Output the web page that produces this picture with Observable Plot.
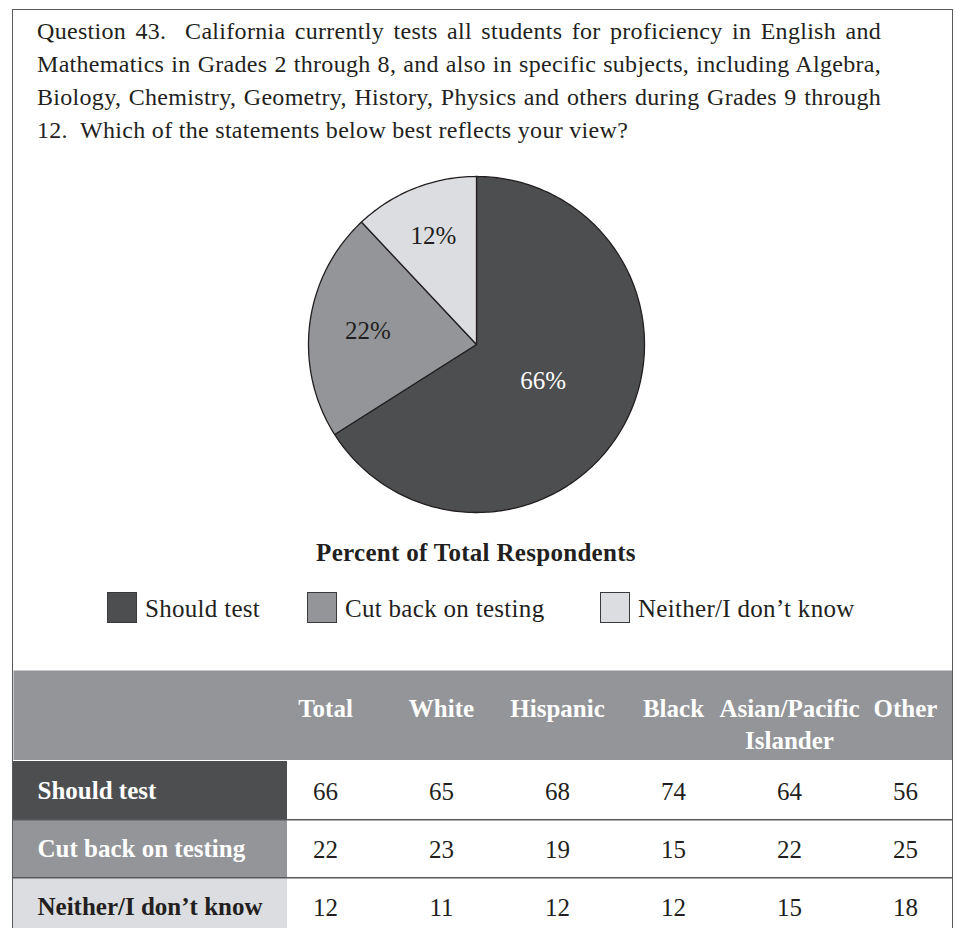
<!DOCTYPE html>
<html>
<head>
<meta charset="utf-8">
<script src="https://cdn.jsdelivr.net/npm/d3@7"></script>
<script src="https://cdn.jsdelivr.net/npm/@observablehq/plot@0.6"></script>
<style>
  html, body { margin: 0; padding: 0; background: #fff; }
  body { width: 956px; height: 928px; overflow: hidden; position: relative;
         font-family: "Liberation Serif", "DejaVu Serif", serif; color: #231f20; }
  .abs { position: absolute; }
  #title { left: 37px; top: 15px; width: 844px; font-size: 24px; line-height: 33px; letter-spacing: 0.3px; }
  #title div { white-space: nowrap; height: 33px; overflow: visible; }
  #title div.j { text-align: justify; text-align-last: justify; white-space: normal; }
  #pieTitle { left: 0; width: 952px; top: 540px; text-align: center; font-size: 25px; line-height: 25px; font-weight: bold; letter-spacing: 0.3px; }
  .sw { width: 30px; height: 31px; border: 1px solid #3a3a3c; box-sizing: border-box; top: 592px; }
  .lg { top: 596px; font-size: 25px; line-height: 25px; letter-spacing: 0.3px; white-space: nowrap; }
  #box { left: 12px; top: 9px; width: 939px; height: 960px; border: 1.5px solid #5a5b5d; pointer-events: none; }
</style>
</head>
<body>
<div id="title" class="abs"></div>
<div id="pie" class="abs" style="left:306px; top:174px;"></div>
<div id="pieTitle" class="abs"></div>
<div id="legend"></div>
<div id="thead" class="abs" style="left:13px; top:670px;"></div>
<div id="tbody" class="abs" style="left:13px; top:760px;"></div>
<div id="box" class="abs"></div>
<script>
// ---------- data ----------
const titleLines = [
  "Question 43.  California currently tests all students for proficiency in English and",
  "Mathematics in Grades 2 through 8, and also in specific subjects, including Algebra,",
  "Biology, Chemistry, Geometry, History, Physics and others during Grades 9 through",
  "12.  Which of the statements below best reflects your view?"
];
const pieTitle = "Percent of Total Respondents";
const responses = ["Should test", "Cut back on testing", "Neither/I don\u2019t know"];
const totalPercent = [66, 22, 12];
const groups = ["Total", "White", "Hispanic", "Black", "Asian/Pacific Islander", "Other"];
const groupLabels = ["Total", "White", "Hispanic", "Black", "Asian/Pacific\nIslander", "Other"];
const shouldTest = [66, 65, 68, 74, 64, 56];
const cutBack = [22, 23, 19, 15, 22, 25];
const neither = [12, 11, 12, 12, 15, 18];

// ---------- styles ----------
const fills = ["#4d4e50", "#939598", "#dcdde0"];
const labelInk = ["#ffffff", "#231f20", "#231f20"];
const rowInk = ["#ffffff", "#ffffff", "#231f20"];
const ink = "#231f20";
const fs = 25;

const titleEl = document.getElementById("title");
titleLines.forEach((l, i) => {
  const d = document.createElement("div");
  if (i < titleLines.length - 1) d.className = "j";
  d.textContent = l.replace(/  /g, "\u00a0 ");
  titleEl.appendChild(d);
});
document.getElementById("pieTitle").textContent = pieTitle;

// ---------- pie ----------
const arcs = d3.pie().sort(null).value(d => d)(totalPercent);
const sliceMarks = arcs.map((a, i) => {
  const pts = [{x: 0, y: 0}];
  const n = Math.max(2, Math.ceil((a.endAngle - a.startAngle) / (Math.PI / 180)));
  for (let k = 0; k <= n; k++) {
    const t = a.startAngle + (a.endAngle - a.startAngle) * k / n;
    pts.push({x: Math.sin(t), y: Math.cos(t)});
  }
  return Plot.line(pts, {x: "x", y: "y", fill: fills[i], stroke: ink, strokeWidth: 1.3,
                         strokeLinejoin: "round", curve: "linear-closed"});
});
const labels = arcs.map((a, i) => {
  const share = totalPercent[i] / 100;
  const r = 0.75 - 0.45 * share;
  const m = (a.startAngle + a.endAngle) / 2;
  return {x: r * Math.sin(m), y: r * Math.cos(m), text: totalPercent[i] + "%", fill: labelInk[i]};
});
const piePlot = Plot.plot({
  width: 340, height: 340, margin: 2,
  x: {domain: [-1, 1], axis: null},
  y: {domain: [-1, 1], axis: null},
  color: {type: "identity"},
  marks: [
    ...sliceMarks,
    Plot.text(labels, {x: "x", y: "y", text: "text", fill: "fill", fontSize: fs,
                       fontFamily: "Liberation Serif"})
  ]
});
document.getElementById("pie").appendChild(piePlot);

// ---------- legend ----------
const legendX = [107, 307, 600];
const legend = document.getElementById("legend");
responses.forEach((r, i) => {
  const sw = document.createElement("div");
  sw.className = "abs sw";
  sw.style.left = legendX[i] + "px";
  sw.style.background = fills[i];
  legend.appendChild(sw);
  const t = document.createElement("div");
  t.className = "abs lg";
  t.style.left = (legendX[i] + 38) + "px";
  t.textContent = r;
  legend.appendChild(t);
});

// ---------- table ----------
const tableW = 939;
const labelColW = 274;
const xScale = {type: "point", domain: groups, range: [312, 892], padding: 0, axis: null};
const headPlot = Plot.plot({
  width: tableW, height: 90, margin: 0,
  x: xScale,
  marks: [
    Plot.frame({fill: fills[1], stroke: "none"}),
    Plot.text(groups, {x: d => d, text: groupLabels, frameAnchor: "top", lineAnchor: "top",
                       dy: 24, lineHeight: 1.28, fill: "#ffffff", fontWeight: "bold",
                       fontSize: fs, fontFamily: "Liberation Serif"})
  ]
});
document.getElementById("thead").appendChild(headPlot);

const series = [shouldTest, cutBack, neither];
const cells = [];
responses.forEach((r, i) => groups.forEach((g, j) => cells.push({row: r, group: g, value: series[i][j]})));
const bodyH = 175;
const bodyPlot = Plot.plot({
  width: tableW, height: bodyH, margin: 0,
  x: xScale,
  y: {type: "band", domain: responses, padding: 0, axis: null},
  color: {type: "identity"},
  marks: [
    Plot.cell(responses, {y: d => d, fill: fills, insetRight: tableW - labelColW}),
    Plot.ruleY(responses.slice(0, 2), {y: d => d, dy: bodyH / responses.length / 2,
                                       stroke: "#58595b", strokeWidth: 1.5}),
    Plot.text(responses, {y: d => d, text: d => d, frameAnchor: "left", textAnchor: "start",
                          dx: 24, dy: 0, fill: rowInk, fontWeight: "bold", fontSize: fs,
                          fontFamily: "Liberation Serif"}),
    Plot.text(cells, {x: "group", y: "row", text: "value", dy: 1, fill: ink, fontSize: fs,
                      fontFamily: "Liberation Serif"})
  ]
});
document.getElementById("tbody").appendChild(bodyPlot);
</script>
</body>
</html>
